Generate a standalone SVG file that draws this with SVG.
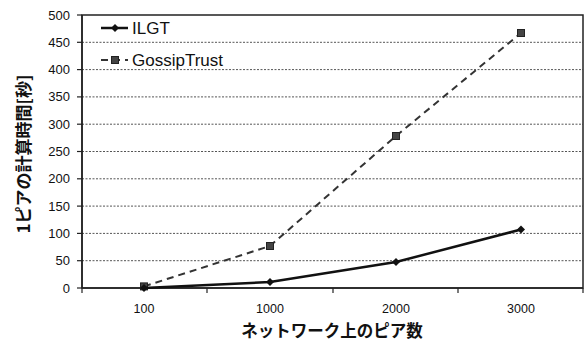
<svg xmlns="http://www.w3.org/2000/svg" width="585" height="343" viewBox="0 0 585 343">
<style>
.grid{stroke:#555;stroke-width:1;stroke-dasharray:2 1.5}
.axis{stroke:#222;stroke-width:1.5;fill:none}
.tick{stroke:#222;stroke-width:1.2}
.ylab{font-family:"Liberation Sans",Arial,sans-serif;font-size:13px;fill:#111;text-anchor:end}
.xlab{font-family:"Liberation Sans",Arial,sans-serif;font-size:12.5px;fill:#111;text-anchor:middle}
.title{font-family:"Noto Sans CJK JP",sans-serif;font-weight:bold;font-size:16.5px;fill:#111}
.ytitle{font-family:"Noto Sans CJK JP",sans-serif;font-weight:bold;font-size:17px;fill:#111}
.leg{font-family:"Liberation Sans",Arial,sans-serif;font-size:17px;fill:#111}
.ilgt{stroke:#111;stroke-width:2.5;fill:none}
.gossip{stroke:#333;stroke-width:2;fill:none;stroke-dasharray:7 5}
</style>
<defs>
<path id="dia" d="M0,-4 L4,0 L0,4 L-4,0 Z" fill="#111"/>
<rect id="sq" x="-3.5" y="-3.5" width="7" height="7" fill="#444" stroke="#222" stroke-width="1"/>
</defs>
<rect width="585" height="343" fill="#fff"/>
<g id="grid">
<line class="grid" x1="82" y1="42.3" x2="583" y2="42.3"/>
<line class="grid" x1="82" y1="69.6" x2="583" y2="69.6"/>
<line class="grid" x1="82" y1="96.9" x2="583" y2="96.9"/>
<line class="grid" x1="82" y1="124.2" x2="583" y2="124.2"/>
<line class="grid" x1="82" y1="151.5" x2="583" y2="151.5"/>
<line class="grid" x1="82" y1="178.8" x2="583" y2="178.8"/>
<line class="grid" x1="82" y1="206.1" x2="583" y2="206.1"/>
<line class="grid" x1="82" y1="233.4" x2="583" y2="233.4"/>
<line class="grid" x1="82" y1="260.7" x2="583" y2="260.7"/>
</g>
<g id="axes">
<rect class="axis" x="82" y="15" width="501" height="273" stroke-width="1.2"/>
<line class="axis" x1="82" y1="15" x2="82" y2="288"/>
<line class="axis" x1="82" y1="288" x2="583" y2="288"/>
<g class="tick">
<line x1="77" y1="15" x2="82" y2="15"/><line x1="77" y1="42.3" x2="82" y2="42.3"/>
<line x1="77" y1="69.6" x2="82" y2="69.6"/><line x1="77" y1="96.9" x2="82" y2="96.9"/>
<line x1="77" y1="124.2" x2="82" y2="124.2"/><line x1="77" y1="151.5" x2="82" y2="151.5"/>
<line x1="77" y1="178.8" x2="82" y2="178.8"/><line x1="77" y1="206.1" x2="82" y2="206.1"/>
<line x1="77" y1="233.4" x2="82" y2="233.4"/><line x1="77" y1="260.7" x2="82" y2="260.7"/>
<line x1="77" y1="288" x2="82" y2="288"/>
<line x1="82" y1="288" x2="82" y2="293"/><line x1="207" y1="288" x2="207" y2="293"/>
<line x1="333" y1="288" x2="333" y2="293"/><line x1="458" y1="288" x2="458" y2="293"/>
<line x1="583" y1="288" x2="583" y2="293"/>
</g>
</g>
<g id="yticks">
<text class="ylab" x="70" y="19.5">500</text>
<text class="ylab" x="70" y="46.8">450</text>
<text class="ylab" x="70" y="74.1">400</text>
<text class="ylab" x="70" y="101.4">350</text>
<text class="ylab" x="70" y="128.7">300</text>
<text class="ylab" x="70" y="156">250</text>
<text class="ylab" x="70" y="183.3">200</text>
<text class="ylab" x="70" y="210.6">150</text>
<text class="ylab" x="70" y="237.9">100</text>
<text class="ylab" x="70" y="265.2">50</text>
<text class="ylab" x="70" y="292.5">0</text>
</g>
<g id="xticks">
<text class="xlab" x="144" y="313">100</text>
<text class="xlab" x="270" y="313">1000</text>
<text class="xlab" x="396" y="313">2000</text>
<text class="xlab" x="521" y="313">3000</text>
</g>
<g id="series-gossip">
<polyline class="gossip" points="144,286.4 270,246 396,136 521,33"/>
<use href="#sq" x="144" y="286.4"/><use href="#sq" x="270" y="246"/>
<use href="#sq" x="396" y="136"/><use href="#sq" x="521" y="33"/>
</g>
<g id="series-ilgt">
<polyline class="ilgt" points="144,288 270,282 396,262 521,229.5"/>
<use href="#dia" x="144" y="288"/><use href="#dia" x="270" y="282"/>
<use href="#dia" x="396" y="262"/><use href="#dia" x="521" y="229.5"/>
</g>
<g id="legend">
<line class="ilgt" x1="101" y1="28" x2="128" y2="28" stroke-width="2"/>
<use href="#dia" x="115" y="28"/>
<text class="leg" x="132" y="34">ILGT</text>
<line class="gossip" x1="101" y1="60" x2="128" y2="60" stroke-dasharray="5 3"/>
<use href="#sq" x="115" y="60"/>
<text class="leg" x="132" y="66">GossipTrust</text>
</g>
<text class="title" x="332" y="337" text-anchor="middle">ネットワーク上のピア数</text>
<text class="ytitle" transform="translate(30,154) rotate(-90)" text-anchor="middle">1ピアの計算時間[秒]</text>
</svg>
